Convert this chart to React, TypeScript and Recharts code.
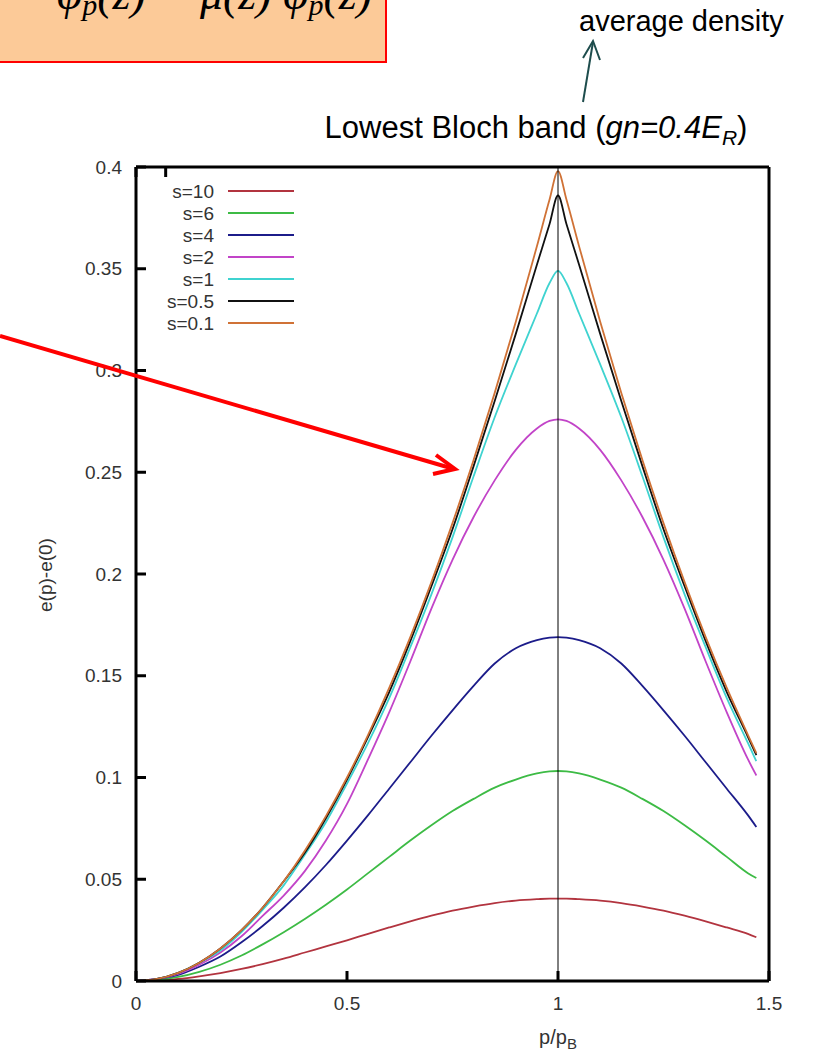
import { LineChart, Line, XAxis, YAxis, ReferenceLine } from 'recharts';

// momentum p/p_B
const P = [
  0, 0.05, 0.1, 0.15, 0.2, 0.25, 0.3, 0.35, 0.4, 0.45, 0.5, 0.55, 0.6, 0.65, 0.7, 0.75, 0.8,
  0.85, 0.9, 0.95, 0.98, 1, 1.02, 1.05, 1.1, 1.15, 1.2, 1.25, 1.3, 1.35, 1.4, 1.45, 1.47,
];

// e(p)-e(0) for each lattice depth s
const S10 = [
  0, 0.0003, 0.001, 0.0023, 0.0039, 0.0059, 0.0083, 0.011, 0.014, 0.017, 0.02, 0.0232, 0.0263,
  0.0293, 0.0321, 0.0346, 0.0366, 0.0383, 0.0395, 0.0402, 0.0405, 0.0405, 0.0405, 0.0402, 0.0395,
  0.0383, 0.0366, 0.0346, 0.0321, 0.0293, 0.0263, 0.0232, 0.0215,
];
const S6 = [
  0, 0.0005, 0.002, 0.0045, 0.008, 0.0125, 0.018, 0.024, 0.0305, 0.0375, 0.045, 0.053, 0.061,
  0.069, 0.0765, 0.0835, 0.0895, 0.095, 0.099, 0.102, 0.103, 0.1032, 0.103, 0.102, 0.099, 0.095,
  0.0895, 0.0835, 0.0765, 0.069, 0.061, 0.053, 0.0506,
];
const S4 = [
  0, 0.001, 0.003, 0.007, 0.012, 0.019, 0.027, 0.036, 0.046, 0.057, 0.069, 0.0815, 0.0945, 0.1075,
  0.1205, 0.133, 0.145, 0.156, 0.1635, 0.1675, 0.1687, 0.169, 0.1687, 0.1675, 0.1635, 0.156, 0.145,
  0.133, 0.1205, 0.1075, 0.0945, 0.0815, 0.0757,
];
const S2 = [
  0, 0.001, 0.0035, 0.008, 0.014, 0.022, 0.032, 0.042, 0.054, 0.069, 0.087, 0.109, 0.132, 0.157,
  0.183, 0.207, 0.228, 0.246, 0.261, 0.2715, 0.2752, 0.276, 0.2752, 0.2715, 0.261, 0.246, 0.228,
  0.207, 0.183, 0.157, 0.132, 0.109, 0.101,
];
const S1 = [
  0, 0.001, 0.004, 0.009, 0.015, 0.024, 0.035, 0.047, 0.062, 0.078, 0.097, 0.117, 0.139, 0.164,
  0.19, 0.218, 0.248, 0.277, 0.303, 0.328, 0.343, 0.349, 0.343, 0.328, 0.303, 0.277, 0.248, 0.218,
  0.19, 0.164, 0.139, 0.117, 0.108,
];
const S05 = [
  0, 0.001, 0.004, 0.009, 0.016, 0.025, 0.036, 0.049, 0.063, 0.08, 0.099, 0.12, 0.142, 0.167,
  0.194, 0.222, 0.253, 0.285, 0.318, 0.352, 0.372, 0.386, 0.372, 0.352, 0.318, 0.285, 0.253, 0.222,
  0.194, 0.167, 0.142, 0.12, 0.111,
];
const S01 = [
  0, 0.001, 0.004, 0.009, 0.016, 0.025, 0.036, 0.049, 0.064, 0.081, 0.1, 0.121, 0.144, 0.169,
  0.196, 0.225, 0.256, 0.289, 0.324, 0.361, 0.384, 0.398, 0.384, 0.361, 0.324, 0.289, 0.256, 0.225,
  0.196, 0.169, 0.144, 0.121, 0.112,
];

const SERIES = [
  { key: 's10', name: 's=10', color: '#b2343f', values: S10 },
  { key: 's6', name: 's=6', color: '#3dbb45', values: S6 },
  { key: 's4', name: 's=4', color: '#1c1c8a', values: S4 },
  { key: 's2', name: 's=2', color: '#c244c8', values: S2 },
  { key: 's1', name: 's=1', color: '#3fd3d0', values: S1 },
  { key: 's05', name: 's=0.5', color: '#111111', values: S05 },
  { key: 's01', name: 's=0.1', color: '#d07236', values: S01 },
];

const X_TICKS = [0, 0.5, 1, 1.5];
const Y_TICKS = [0, 0.05, 0.1, 0.15, 0.2, 0.25, 0.3, 0.35, 0.4];

const data = P.map((p, i) => {
  const row: Record<string, number> = { p };
  SERIES.forEach((s) => {
    row[s.key] = s.values[i];
  });
  return row;
});

const FONT = "'Liberation Sans', Arial, Helvetica, sans-serif";
const TICK_LEN = 10;

// gnuplot style: ticks point into the plot
function LeftTick({ x, y, payload }: any) {
  const ax = x + 14; // tickSize 6 + tickMargin 8
  return (
    <g>
      <line x1={ax} x2={ax + TICK_LEN} y1={y} y2={y} stroke="#000" strokeWidth={3} />
      <text x={x} y={y} dy="0.35em" textAnchor="end" fontSize={19} fontFamily={FONT} fill="#333">
        {payload.value}
      </text>
    </g>
  );
}

function BottomTick({ x, y, payload }: any) {
  const ay = y - 16; // tickSize 6 + tickMargin 10
  return (
    <g>
      <line x1={x} x2={x} y1={ay} y2={ay - TICK_LEN} stroke="#000" strokeWidth={3} />
      <text x={x} y={y} dy="0.71em" textAnchor="middle" fontSize={19} fontFamily={FONT} fill="#333">
        {payload.value}
      </text>
    </g>
  );
}

function RightTick({ x, y }: any) {
  return <line x1={x} x2={x - TICK_LEN} y1={y} y2={y} stroke="#000" strokeWidth={3} />;
}

function TopTick({ x, y }: any) {
  return <line x1={x} x2={x} y1={y} y2={y + TICK_LEN} stroke="#000" strokeWidth={3} />;
}

function Annotations() {
  return (
    <svg
      width={814}
      height={1055}
      style={{ position: 'absolute', left: 0, top: 0, pointerEvents: 'none' }}
    >
      {/* equation box, cut at the top of the page */}
      <rect x={-2} y={-2} width={388} height={64} fill="#fcca98" stroke="#ff0000" strokeWidth={2} />
      <text
        x={372}
        y={9}
        textAnchor="end"
        fontFamily="'Liberation Serif', 'Times New Roman', serif"
        fontStyle="italic"
        fontSize={46}
        fill="#000"
      >
        φ<tspan fontSize={30} dy={6}>p</tspan>
        <tspan dy={-6}>(z) = μ(z) φ</tspan>
        <tspan fontSize={30} dy={6}>p</tspan>
        <tspan dy={-6}>(z)</tspan>
      </text>

      <text x={579} y={31} fontSize={29} fontFamily={FONT} fill="#000">
        average density
      </text>
      <line x1={583} y1={102} x2={593} y2={42} stroke="#1e4d4d" strokeWidth={2} />
      <polyline points="583,58 593,41 600,60" fill="none" stroke="#1e4d4d" strokeWidth={2} />

      <text x={536} y={138} textAnchor="middle" fontSize={31} fontFamily={FONT} fill="#000">
        Lowest Bloch band (<tspan fontStyle="italic">gn=0.4E</tspan>
        <tspan fontStyle="italic" fontSize={21} dy={7}>R</tspan>
        <tspan dy={-7}>)</tspan>
      </text>

      {/* legend */}
      {SERIES.map((s, i) => {
        const y = 191 + i * 22;
        return (
          <g key={s.key}>
            <text x={214} y={y} dy="0.35em" textAnchor="end" fontSize={19} fontFamily={FONT} fill="#333">
              {s.name}
            </text>
            <line x1={228} x2={294} y1={y} y2={y} stroke={s.color} strokeWidth={2} />
          </g>
        );
      })}

      <text
        x={52}
        y={575}
        transform="rotate(-90 52 575)"
        textAnchor="middle"
        fontSize={19}
        fontFamily={FONT}
        fill="#333"
      >
        e(p)-e(0)
      </text>
      <text x={558} y={1044} textAnchor="middle" fontSize={20} fontFamily={FONT} fill="#333">
        p/p<tspan fontSize={15} dy={5}>B</tspan>
      </text>

      {/* red pointer */}
      <line x1={0} y1={336} x2={454} y2={469} stroke="#ff0000" strokeWidth={4} />
      <polyline
        points="436,455 455,469 433,474"
        fill="none"
        stroke="#ff0000"
        strokeWidth={4}
        strokeLinejoin="miter"
      />
    </svg>
  );
}

export default function App() {
  return (
    <div style={{ position: 'absolute', left: 0, top: 0, width: 814, height: 1055, background: '#fff' }}>
      <LineChart width={814} height={1055} data={data} margin={{ top: 166, right: 44, bottom: 44, left: 0 }}>
        <XAxis
          dataKey="p"
          type="number"
          domain={[0, 1.5]}
          ticks={X_TICKS}
          height={30}
          tickSize={6}
          tickMargin={10}
          tickLine={false}
          axisLine={{ stroke: '#000', strokeWidth: 3 }}
          tick={(props: any) => <BottomTick {...props} />}
        />
        <XAxis
          xAxisId="top"
          orientation="top"
          type="number"
          domain={[0, 1.5]}
          ticks={X_TICKS}
          height={1}
          tickSize={0}
          tickMargin={0}
          tickLine={false}
          axisLine={{ stroke: '#000', strokeWidth: 3 }}
          tick={(props: any) => <TopTick {...props} />}
        />
        <YAxis
          type="number"
          domain={[0, 0.4]}
          ticks={Y_TICKS}
          width={136}
          tickSize={6}
          tickMargin={8}
          tickLine={false}
          axisLine={{ stroke: '#000', strokeWidth: 3 }}
          tick={(props: any) => <LeftTick {...props} />}
        />
        <YAxis
          yAxisId="right"
          orientation="right"
          type="number"
          domain={[0, 0.4]}
          ticks={Y_TICKS}
          width={1}
          tickSize={0}
          tickMargin={0}
          tickLine={false}
          axisLine={{ stroke: '#000', strokeWidth: 3 }}
          tick={(props: any) => <RightTick {...props} />}
        />
        {SERIES.map((s) => (
          <Line
            key={s.key}
            dataKey={s.key}
            type="monotone"
            stroke={s.color}
            strokeWidth={1.8}
            dot={false}
            isAnimationActive={false}
          />
        ))}
        <ReferenceLine x={1} stroke="#000" strokeWidth={1} />
      </LineChart>
      <Annotations />
    </div>
  );
}
